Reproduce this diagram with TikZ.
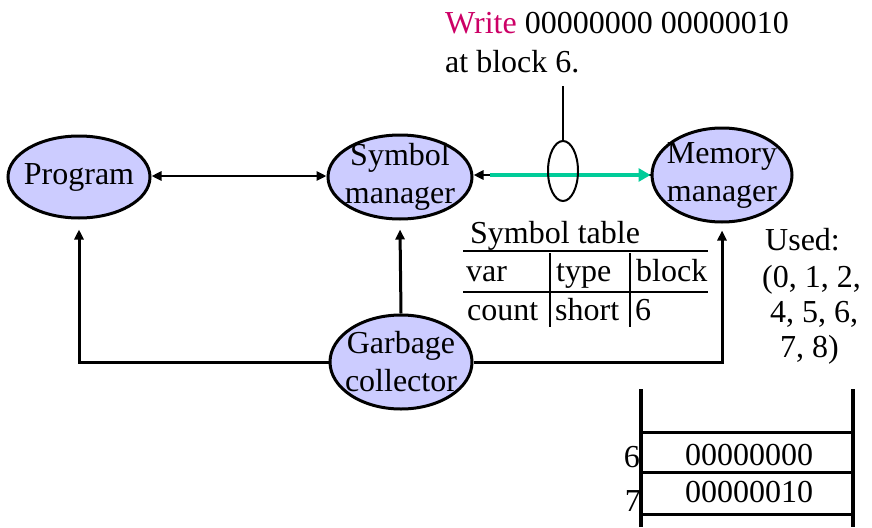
\documentclass[tikz,border=0pt]{standalone}
\usepackage{fontspec}
\setmainfont{Liberation Serif}
\usetikzlibrary{shapes.geometric,arrows.meta}
\definecolor{ellfill}{RGB}{204,204,255}
\definecolor{writec}{RGB}{204,0,102}
\definecolor{greenc}{RGB}{0,204,153}
\begin{document}
\begin{tikzpicture}[x=1pt,y=-1pt,
  ell/.style={ellipse,draw=black,line width=3pt,fill=ellfill,inner sep=0pt},
  lbl/.style={font=\fontsize{32}{38}\selectfont,align=center,inner sep=0pt},
  txt/.style={font=\fontsize{32}{38}\selectfont,inner sep=0pt,anchor=base west},
  tip/.style={-{Triangle[length=10pt,width=9pt]}},
  conn/.style={line width=3pt,tip},
  tline/.style={line width=1.5pt},
  mline/.style={line width=3.5pt}]
\useasboundingbox (0,0) rectangle (872,527);
% ellipses
\node[ell,minimum width=142,minimum height=82] (prog) at (79,177) {};
\node[lbl] (progt) at (prog.center) {Program};
\node[ell,minimum width=144,minimum height=84] (sym) at (400,177) {};
\node[lbl] (symt) at (sym.center) {Symbol\\manager};
\node[ell,minimum width=140,minimum height=94] (mem) at (722,175) {};
\node[lbl] (memt) at (mem.center) {Memory\\manager};
\node[ell,minimum width=142,minimum height=94] (gc) at (401,362) {};
\node[lbl] (gct) at (gc.center) {Garbage\\collector};
% top connectors
\draw[line width=2.5pt,{Triangle[length=10pt,width=9pt]}-{Triangle[length=10pt,width=9pt]}] (prog.east |- 0,176) -- (sym.west |- 0,176);
\coordinate (se) at (sym.east |- mem.west);
\draw[line width=2.5pt,{Triangle[length=10pt,width=9pt]}-] (se) -- (mem.west);
\coordinate (g0) at ([xshift=16pt]se);
\draw[greenc,line width=4.5pt,-{Triangle[length=12pt,width=13pt]}] (g0) -- (mem.west);
% write message
\node[ellipse,draw,line width=2pt,minimum width=30,minimum height=60,inner sep=0pt] (cap) at (563,171) {};
\coordinate (captop) at (563,86);
\draw[line width=2pt] (captop) -- (cap.north);
\node[txt] (w1) at (445,34) {\textcolor{writec}{Write} 00000000 00000010};
\node[txt] (w2) at (445,72) {at block 6.};
% garbage connectors
\draw[conn] (gc.west) -| ([yshift=-10pt]prog.south);
\draw[conn] (gc.north) -- ([yshift=-9pt]sym.south);
\draw[conn] (gc.east) -| ([yshift=-7pt]mem.south);
% symbol table
\node[txt] (st) at (470,243) {Symbol table};
\draw[tline] (463,251) -- (708,251);
\draw[tline] (463,292) -- (708,292);
\draw[tline] (550,253) -- (550,327);
\draw[tline] (630,253) -- (630,327);
\node[txt] (h1) at (466,281) {var};
\node[txt] (h2) at (556,281) {type};
\node[txt] (h3) at (636,281) {block};
\node[txt] (r1) at (467,320) {count};
\node[txt] (r2) at (555,320) {short};
\node[txt] (r3) at (635,320) {6};
% used
\node[txt] (u1) at (765,250) {Used:};
\node[txt] (u2) at (762,287) {(0, 1, 2,};
\node[txt] (u3) at (770,322) {4, 5, 6,};
\node[txt] (u4) at (780,357) {7, 8)};
% memory
\draw[mline] (641,389) -- (641,527);
\draw[mline] (853,389) -- (853,527);
\draw[line width=3pt] (641,432) -- (853,432);
\draw[line width=3pt] (641,472) -- (853,472);
\draw[line width=3pt] (641,514) -- (853,514);
\node[font=\fontsize{32}{38}\selectfont,inner sep=0pt,anchor=base east] (n6) at (640,467) {6};
\node[font=\fontsize{32}{38}\selectfont,inner sep=0pt,anchor=base east] (n7) at (641,511) {7};
\node[font=\fontsize{32}{38}\selectfont,inner sep=0pt,anchor=base] (b6) at (749,465) {00000000};
\node[font=\fontsize{32}{38}\selectfont,inner sep=0pt,anchor=base] (b7) at (749,502) {00000010};
\end{tikzpicture}
\end{document}
